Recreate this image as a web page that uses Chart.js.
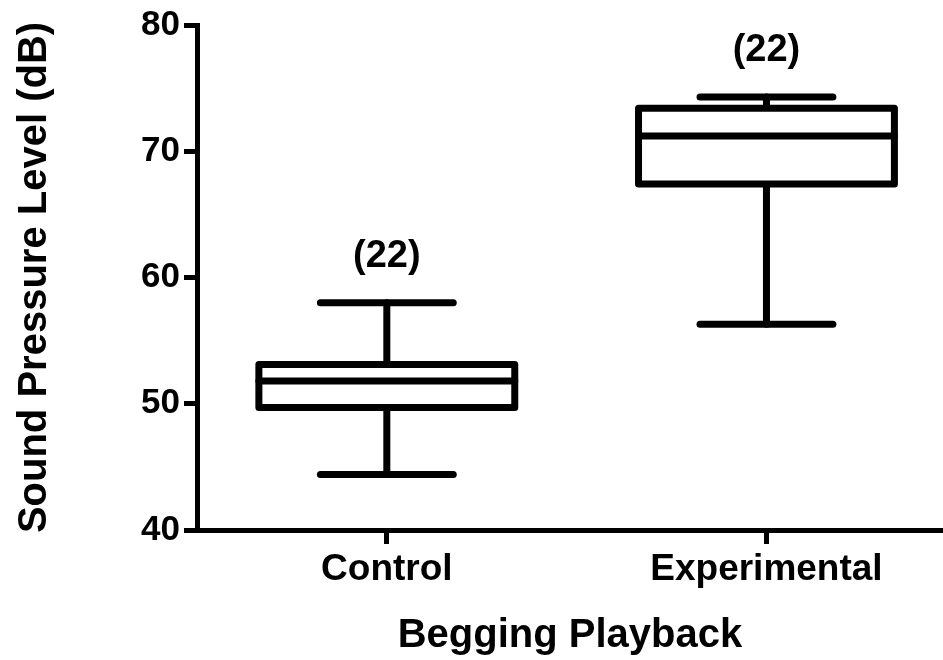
<!DOCTYPE html>
<html>
<head>
<meta charset="utf-8">
<script src="https://cdn.jsdelivr.net/npm/chart.js@4"></script>
<style>
  html, body { margin: 0; padding: 0; background: #fff; }
  #wrap { width: 943px; height: 660px; }
</style>
</head>
<body>
<div id="wrap"><canvas id="myChart"></canvas></div>
<script>
const categories = ['Control', 'Experimental'];
const whiskerLow = [44.4, 56.3];
const q1 = [49.7, 67.4];
const median = [51.8, 71.2];
const q3 = [53.1, 73.4];
const whiskerHigh = [58.0, 74.3];
const counts = [22, 22];
const yTicks = [40, 50, 60, 70, 80];

const FONT = "'Liberation Sans', Arial, sans-serif";

// draws the boxes + whiskers through the chart scales
const boxPlot = {
    id: 'boxPlot',
    afterDatasetsDraw(chart, args, opts) {
        const {ctx, scales: {x, y}} = chart;
        ctx.save();
        ctx.strokeStyle = '#000';
        ctx.lineWidth = opts.lineWidth;
        ctx.lineJoin = 'round';
        ctx.lineCap = 'round';

        const seg = (x0, y0, x1, y1) => {
            ctx.beginPath();
            ctx.moveTo(x0, y0);
            ctx.lineTo(x1, y1);
            ctx.stroke();
        };

        categories.forEach((cat, i) => {
            const v = i + 1;
            const xc = x.getPixelForValue(v);
            const bl = x.getPixelForValue(v - opts.boxHalf);
            const br = x.getPixelForValue(v + opts.boxHalf);
            const cl = x.getPixelForValue(v - opts.capHalf);
            const cr = x.getPixelForValue(v + opts.capHalf);
            const yLo = y.getPixelForValue(whiskerLow[i]);
            const yQ1 = y.getPixelForValue(q1[i]);
            const yMed = y.getPixelForValue(median[i]);
            const yQ3 = y.getPixelForValue(q3[i]);
            const yHi = y.getPixelForValue(whiskerHigh[i]);

            seg(xc, yLo, xc, yQ1);
            seg(xc, yQ3, xc, yHi);
            seg(cl, yLo, cr, yLo);
            seg(cl, yHi, cr, yHi);

            ctx.fillStyle = '#fff';
            ctx.fillRect(bl, yQ3, br - bl, yQ1 - yQ3);
            ctx.strokeRect(bl, yQ3, br - bl, yQ1 - yQ3);
            seg(bl, yMed, br, yMed);

            ctx.fillStyle = '#000';
            ctx.font = 'bold ' + opts.labelSize + 'px ' + FONT;
            ctx.textAlign = 'center';
            ctx.textBaseline = 'alphabetic';
            ctx.fillText('(' + counts[i] + ')', xc, yHi - opts.labelGap);
        });
        ctx.restore();
    }
};

const ctx = document.getElementById('myChart');

const config = {
    type: 'scatter',
    data: {
        datasets: [{
            label: 'median',
            data: categories.map((c, i) => ({x: i + 1, y: median[i]})),
            pointRadius: 0,
            pointHoverRadius: 0
        }]
    },
    options: {
        responsive: true,
        maintainAspectRatio: false,
        animation: false,
        events: [],
        layout: {
            padding: {top: 10, right: 0, left: 0, bottom: 0}
        },
        plugins: {
            legend: {display: false},
            tooltip: {enabled: false},
            boxPlot: {
                lineWidth: 7,
                boxHalf: 0.337,
                capHalf: 0.175,
                labelSize: 38,
                labelGap: 36
            }
        },
        scales: {
            x: {
                type: 'linear',
                min: 0.5,
                max: 2.465,
                afterBuildTicks: s => { s.ticks = categories.map((c, i) => ({value: i + 1})); },
                afterFit: s => { s.height = 130; },
                ticks: {
                    callback: v => categories[v - 1],
                    color: '#000',
                    font: {family: FONT, size: 37, weight: 'bold'},
                    padding: 4,
                    maxRotation: 0
                },
                grid: {
                    drawOnChartArea: false,
                    drawTicks: true,
                    tickLength: 14,
                    color: '#000',
                    lineWidth: 5
                },
                border: {color: '#000', width: 5},
                title: {
                    display: true,
                    text: 'Begging Playback',
                    color: '#000',
                    font: {family: FONT, size: 40, weight: 'bold'},
                    padding: {top: 10, bottom: 0}
                }
            },
            y: {
                min: 40,
                max: 80,
                afterBuildTicks: s => { s.ticks = yTicks.map(v => ({value: v})); },
                afterFit: s => { s.width = 197; },
                ticks: {
                    color: '#000',
                    font: {family: FONT, size: 35, weight: 'bold'},
                    padding: 4
                },
                grid: {
                    drawOnChartArea: false,
                    drawTicks: true,
                    tickLength: 13,
                    color: '#000',
                    lineWidth: 5
                },
                border: {color: '#000', width: 5},
                title: {
                    display: true,
                    text: 'Sound Pressure Level (dB)',
                    color: '#000',
                    font: {family: FONT, size: 40, weight: 'bold'},
                    padding: {top: 11, bottom: 0}
                }
            }
        }
    },
    plugins: [boxPlot]
};

new Chart(ctx, config);
</script>
</body>
</html>
